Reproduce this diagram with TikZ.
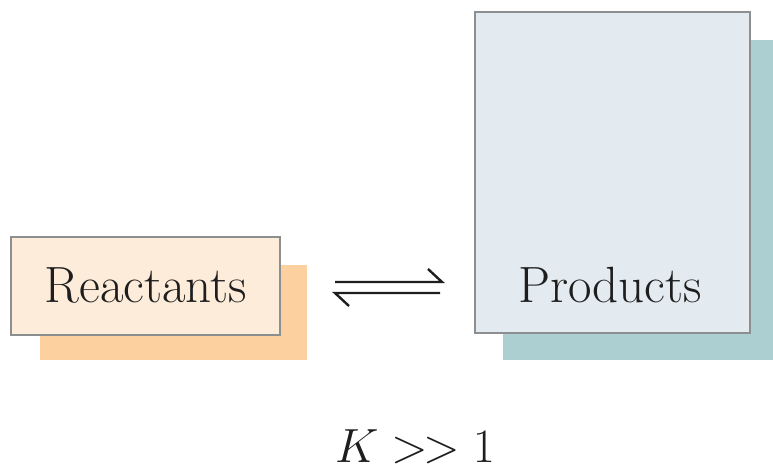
\RequirePackage{fix-cm}
\documentclass[tikz,border=0pt]{standalone}
\usepackage{fontspec}
\usetikzlibrary{positioning}
\definecolor{reacfill}{RGB}{253,236,218}
\definecolor{reacshadow}{RGB}{253,208,160}
\definecolor{prodfill}{RGB}{227,235,240}
\definecolor{prodshadow}{RGB}{172,208,210}
\definecolor{boxline}{RGB}{140,142,143}
\definecolor{inktext}{RGB}{30,30,30}
\tikzset{
  mainbox/.style={draw=boxline, line width=2.6pt, inner sep=0pt},
  lbl/.style={font=\fontsize{51}{60}\selectfont, text=inktext, inner sep=0pt, anchor=base},
  eqline/.style={line width=2.4pt, draw=inktext, line cap=butt}
}
\begin{document}
\begin{tikzpicture}[x=1pt,y=-1pt]
\useasboundingbox (0,0) rectangle (773,467);
\fill[white] (0,0) rectangle (773,467);
% shadows
\fill[reacshadow] (40,265) rectangle (307,360);
\fill[prodshadow] (503,40) rectangle (773,360);
% main boxes
\draw[mainbox, fill=reacfill] (11,237) rectangle (280,335);
\draw[mainbox, fill=prodfill] (475,12) rectangle (750,333);
\node[lbl] (reac) at (146,302) {Reactants};
\node[lbl] (prod) at (610,302) {Products};
% equilibrium arrows
\coordinate (a1) at (335,282);
\coordinate (a2) at (442,282);
\coordinate (a3) at (428,269);
\coordinate (b1) at (440,293);
\coordinate (b2) at (335,293);
\coordinate (b3) at (349,306);
\draw[eqline] (a1) -- (a2) -- (a3);
\draw[eqline] (b1) -- (b2) -- (b3);
\node[lbl, font=\fontsize{48}{56}\selectfont] (k) at (415,462) {$K \mathrel{>\mkern-2mu>} 1$};
\end{tikzpicture}
\end{document}
